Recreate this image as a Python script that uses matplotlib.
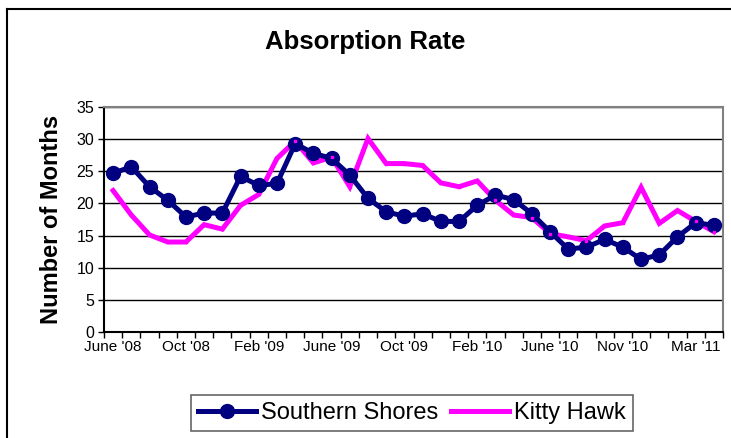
import numpy as np
import matplotlib.pyplot as plt
from matplotlib.lines import Line2D

plt.rcParams['font.family'] = ['Liberation Sans', 'DejaVu Sans']

# monthly categories, June '08 .. Apr '11 (labels shown every 4th)
months = ["June '08", "Jul '08", "Aug '08", "Sep '08", "Oct '08", "Nov '08", "Dec '08",
          "Jan '09", "Feb '09", "Mar '09", "Apr '09", "May '09", "June '09", "Jul '09",
          "Aug '09", "Sep '09", "Oct '09", "Nov '09", "Dec '09", "Jan '10", "Feb '10",
          "Mar '10", "Apr '10", "May '10", "June '10", "Jul '10", "Aug '10", "Sep '10",
          "Nov '10", "Dec '10", "Jan '11", "Feb '11", "Mar '11", "Apr '11"]

southern_shores = [24.7, 25.7, 22.6, 20.5, 17.9, 18.5, 18.5, 24.2, 22.8, 23.1,
                   29.3, 27.8, 27.0, 24.4, 20.8, 18.7, 18.0, 18.4, 17.2, 17.2,
                   19.7, 21.3, 20.6, 18.4, 15.6, 12.9, 13.2, 14.4, 13.2, 11.3,
                   12.0, 14.8, 17.0, 16.6]

kitty_hawk = [22.0, 18.2, 15.1, 14.0, 14.0, 16.7, 16.0, 19.7, 21.4, 27.0,
              29.7, 26.3, 27.2, 22.6, 30.1, 26.2, 26.2, 25.9, 23.2, 22.6,
              23.5, 20.5, 18.2, 17.8, 15.3, 14.8, 14.2, 16.5, 17.0, 22.5,
              16.9, 18.9, 17.2, 15.6]

label_step = 4
navy = '#000080'
magenta = '#FF00FF'

fig = plt.figure(figsize=(7.31, 4.38), dpi=100)
ax = fig.add_axes([104/731, 1 - 332/438, (723 - 104)/731, (332 - 107)/438])

x = np.arange(len(months))
ax.plot(x, kitty_hawk, color=magenta, lw=3.6, zorder=3, solid_joinstyle='miter')
ax.plot(x, southern_shores, color=navy, lw=3.6, marker='o', ms=10,
        markeredgecolor=navy, zorder=4)
# tiny markers of the second series drawn on top
ax.plot(x, kitty_hawk, ls='none', marker='s', ms=2, color=magenta, zorder=5)

ax.set_xlim(-0.5, len(months) - 0.5)
ax.set_ylim(0, 35)
ax.set_yticks(np.arange(0, 36, 5))
ax.set_xticks(x[::label_step])
ax.set_xticklabels(months[::label_step])
ax.set_xticks(np.arange(-0.5, len(months), 1), minor=True)
ax.tick_params(axis='x', which='major', length=0, pad=6, labelsize=11)
ax.tick_params(axis='x', which='minor', length=4, width=1, direction='out')
ax.tick_params(axis='y', length=4, width=1, direction='out', labelsize=11.5, pad=3)

ax.grid(axis='y', color='black', lw=1)
ax.set_axisbelow(True)
ax.spines['left'].set_color('black')
ax.spines['bottom'].set_color('black')
ax.spines['top'].set_color('#808080')
ax.spines['right'].set_color('#808080')
for s in ax.spines.values():
    s.set_linewidth(1.5)

ax.set_ylabel('Number of Months', fontsize=17, fontweight='bold', labelpad=10)
fig.text(0.5, 1 - 42/438, 'Absorption Rate', ha='center', va='center',
         fontsize=18.5, fontweight='bold')

handles = [Line2D([], [], color=navy, lw=3.6, marker='o', ms=10),
           Line2D([], [], color=magenta, lw=3.6)]
leg = fig.legend(handles, ['Southern Shores', 'Kitty Hawk'], loc='center',
                 bbox_to_anchor=(412/731, 1 - 413/438), ncol=2, fontsize=17,
                 frameon=True, fancybox=False, edgecolor='#404040',
                 handlelength=2.45, handletextpad=0.2, columnspacing=0.55,
                 borderpad=0.3, borderaxespad=0)
leg.get_frame().set_linewidth(1.2)

# outer chart frame (left and top edges visible)
fig.add_artist(Line2D([6.5/731, 6.5/731], [0, 1 - 8.5/438], color='black', lw=1.5,
                      transform=fig.transFigure))
fig.add_artist(Line2D([6.5/731, 1], [1 - 8.5/438, 1 - 8.5/438], color='black', lw=1.5,
                      transform=fig.transFigure))

fig.savefig('out.png', dpi=100)
